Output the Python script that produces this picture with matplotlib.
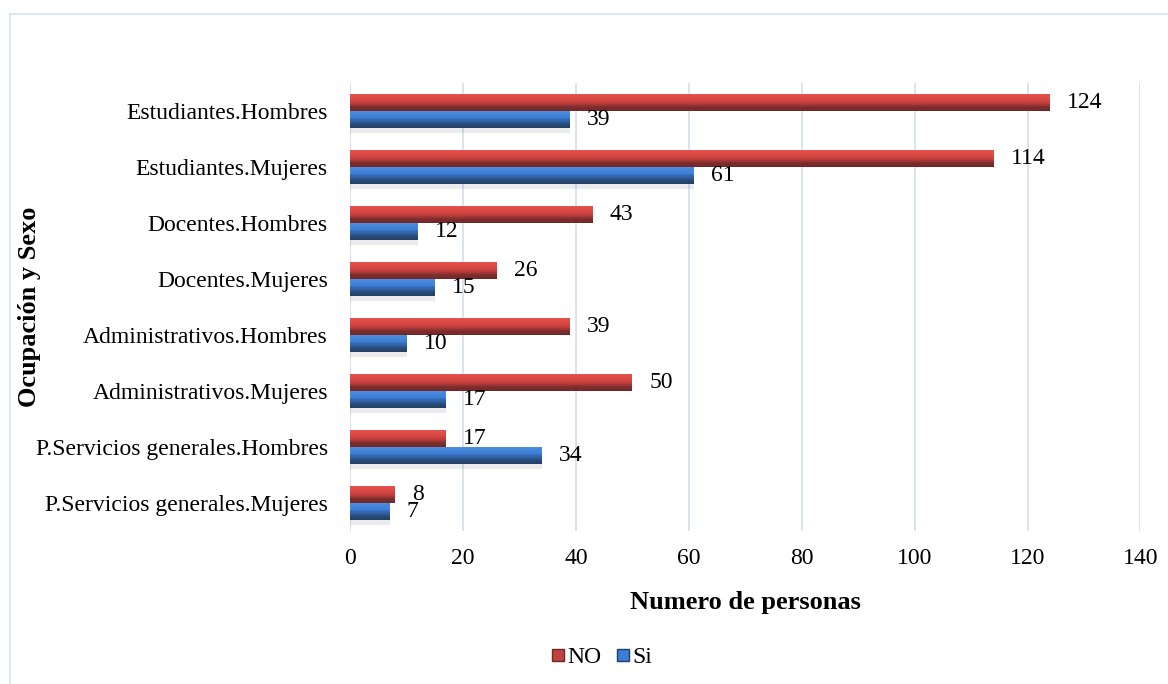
import matplotlib
matplotlib.use("Agg")
import matplotlib.pyplot as plt
from matplotlib.patches import Rectangle
from matplotlib.lines import Line2D
from matplotlib.colors import LinearSegmentedColormap
import numpy as np

categories = ["Estudiantes.Hombres", "Estudiantes.Mujeres", "Docentes.Hombres",
              "Docentes.Mujeres", "Administrativos.Hombres", "Administrativos.Mujeres",
              "P.Servicios generales.Hombres", "P.Servicios generales.Mujeres"]
no_vals = [124, 114, 43, 26, 39, 50, 17, 8]
si_vals = [39, 61, 12, 15, 10, 17, 34, 7]
x_ticks = [0, 20, 40, 60, 80, 100, 120, 140]

plt.rcParams['font.family'] = ['Liberation Serif', 'DejaVu Serif']

fig = plt.figure(figsize=(11.68, 6.84), dpi=100)
ax = fig.add_axes([0.2997, 0.2237, 0.6767, 0.655])

# outer frame
fig.patches.append(Rectangle((10/1168, -0.05), 1.2, 1 - 14/684 + 0.05,
                             transform=fig.transFigure, fill=False,
                             edgecolor='#D6E2F0', linewidth=1.2))

y = np.arange(len(categories))
h = 0.3
nstripes = 14

red_cmap = LinearSegmentedColormap.from_list(
    'r', [(0, '#E2534E'), (0.4, '#D6443F'), (0.6, '#A8383A'), (0.8, '#7C2C2A'), (1.0, '#6A2826')])
blue_cmap = LinearSegmentedColormap.from_list(
    'b', [(0, '#4B8EE2'), (0.4, '#3C7DD6'), (0.6, '#2F5F9E'), (0.8, '#284A78'), (1.0, '#223E63')])

def bevel_bar(ypos, vals, cmap, shadow=False):
    if shadow:
        ax.barh(ypos + h * 0.62, vals, height=h * 0.35, color='#000000', alpha=0.08,
                edgecolor='none', zorder=2)
    sh = h / nstripes
    for k in range(nstripes):
        t = (k + 0.5) / nstripes
        off = -h / 2 + (k + 0.5) * sh
        ax.barh(ypos + off, vals, height=sh * 1.05, color=cmap(t), edgecolor='none', zorder=3)

bevel_bar(y - h / 2, no_vals, red_cmap)
bevel_bar(y + h / 2, si_vals, blue_cmap, shadow=True)

for i in range(len(categories)):
    ax.annotate(str(no_vals[i]), (no_vals[i], y[i] - h / 2), xytext=(17, 0),
                textcoords='offset pixels', va='center', ha='left', fontsize=17)
    ax.annotate(str(si_vals[i]), (si_vals[i], y[i] + h / 2), xytext=(17, 0),
                textcoords='offset pixels', va='center', ha='left', fontsize=17)

ax.set_ylim(len(categories) - 0.5, -0.5)
ax.set_xlim(0, 140)
ax.set_xticks(x_ticks)
ax.set_xticklabels([str(t) for t in x_ticks], fontsize=17)
ax.set_yticks(y)
ax.set_yticklabels(categories, fontsize=17)
ax.tick_params(axis='both', length=0)
ax.tick_params(axis='y', pad=16)
ax.tick_params(axis='x', pad=12)
for s in ax.spines.values():
    s.set_visible(False)
ax.grid(axis='x', color='#D6E2F0', linewidth=1.3, zorder=0)
ax.set_axisbelow(True)

ax.set_xlabel("Numero de personas", fontsize=19, fontweight='bold', labelpad=16)
fig.text(30/1168, 1 - 307/684, "Ocupación y Sexo", rotation=90, fontsize=19,
         fontweight='bold', ha='center', va='center')

handles = [Line2D([], [], marker='s', linestyle='none', markersize=9,
                  markerfacecolor='#C0433F', markeredgecolor='#6A2826'),
           Line2D([], [], marker='s', linestyle='none', markersize=9,
                  markerfacecolor='#3C7DD6', markeredgecolor='#223E63')]
fig.legend(handles, ["NO", "Si"], loc='center', bbox_to_anchor=(0.515, 1 - 657/684),
           ncol=2, frameon=False, fontsize=17, handlelength=0.6, handletextpad=0.1,
           columnspacing=0.6)

fig.savefig("out.png", dpi=100)
